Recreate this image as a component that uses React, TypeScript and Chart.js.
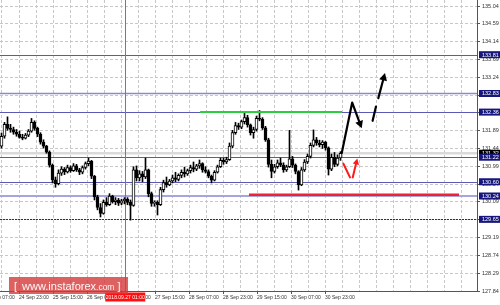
import React, { useEffect, useRef } from 'react';
import { Chart, registerables } from 'chart.js';
Chart.register(...registerables);

// ---- data (candle index on x, price on y) ----
const OPEN = [
  131.50,131.75,132.05,131.95,131.92,131.85,131.80,131.72,131.70,131.78,
  131.88,132.10,131.95,131.80,131.60,131.50,131.35,131.02,130.65,130.55,
  130.82,130.92,130.85,130.96,130.88,131.00,130.90,130.84,130.96,131.06,
  131.12,130.74,130.22,129.95,129.80,130.08,130.02,130.24,130.10,130.14,
  130.06,130.12,130.16,130.08,130.00,130.90,130.70,130.80,130.72,130.90,
  130.30,130.05,130.08,130.02,130.40,130.58,130.52,130.62,130.70,130.66,
  130.76,130.84,130.80,130.88,130.96,130.92,131.00,131.06,130.90,130.86,
  130.74,130.64,130.84,130.98,131.14,131.10,131.16,131.50,131.84,132.02,
  131.98,132.12,132.22,132.04,131.84,131.92,132.20,132.18,131.96,131.66,
  131.04,130.86,130.98,131.08,131.02,130.90,130.98,131.18,131.02,130.86,
  130.52,130.90,131.10,131.24,131.52,131.66,131.58,131.54,131.60,131.46,
  130.92,131.22,131.04,131.20,
];
const HIGH = [
  131.83,132.10,132.24,132.05,131.98,131.92,131.88,131.80,131.82,131.92,
  132.20,132.14,131.98,131.84,131.66,131.52,131.38,131.05,130.72,130.90,
  130.98,130.96,131.02,131.00,131.06,131.04,130.94,131.00,131.10,131.20,
  131.14,130.76,130.26,130.05,130.14,130.20,130.30,130.26,130.20,130.18,
  130.16,130.20,130.20,130.14,130.98,131.00,130.88,130.86,131.20,130.92,
  130.34,130.12,130.12,130.46,130.64,130.72,130.66,130.77,130.84,130.80,
  130.90,130.97,130.92,131.02,131.10,131.04,131.15,131.08,130.98,130.90,
  130.77,130.88,131.02,131.20,131.20,131.22,131.58,131.90,132.10,132.08,
  132.16,132.38,132.28,132.06,131.98,132.26,132.40,132.22,132.00,131.70,
  131.15,131.04,131.15,131.20,131.08,131.02,131.90,131.24,131.05,130.88,
  130.96,131.16,131.30,131.58,131.91,131.72,131.65,131.64,131.62,131.48,
  131.30,131.34,131.28,131.36,
];
const LOW = [
  131.45,131.70,131.90,131.85,131.80,131.75,131.70,131.66,131.68,131.74,
  131.85,131.90,131.74,131.55,131.45,131.32,130.97,130.57,130.46,130.52,
  130.76,130.78,130.82,130.84,130.86,130.86,130.78,130.80,130.92,131.00,
  130.68,130.14,129.89,129.71,129.78,129.98,130.00,130.06,130.02,130.00,
  130.02,130.04,130.02,129.63,129.98,130.62,130.62,130.60,130.68,130.22,
  129.98,129.98,129.76,130.00,130.34,130.46,130.50,130.57,130.60,130.62,
  130.70,130.72,130.76,130.82,130.85,130.88,130.94,130.84,130.82,130.70,
  130.57,130.62,130.82,130.96,131.04,131.06,131.14,131.46,131.80,131.92,
  131.94,132.06,131.98,131.78,131.70,131.88,132.14,131.92,131.62,130.97,
  130.70,130.82,130.94,130.98,130.84,130.86,130.96,130.96,130.80,130.39,
  130.50,130.86,131.06,131.20,131.48,131.52,131.48,131.44,131.40,130.77,
  130.88,130.98,131.00,131.14,
];
const CLOSE = [
  131.75,132.05,131.95,131.92,131.85,131.80,131.72,131.70,131.78,131.88,
  132.10,131.95,131.80,131.60,131.50,131.35,131.02,130.65,130.55,130.82,
  130.92,130.85,130.96,130.88,131.00,130.90,130.84,130.96,131.06,131.12,
  130.74,130.22,129.95,129.80,130.08,130.02,130.24,130.10,130.14,130.06,
  130.12,130.16,130.08,130.00,130.90,130.70,130.80,130.72,130.90,130.30,
  130.05,130.08,130.02,130.40,130.58,130.52,130.62,130.70,130.66,130.76,
  130.84,130.80,130.88,130.96,130.92,131.00,131.06,130.90,130.86,130.74,
  130.64,130.84,130.98,131.14,131.10,131.16,131.50,131.84,132.02,131.98,
  132.12,132.22,132.04,131.84,131.92,132.20,132.18,131.96,131.66,131.04,
  130.86,130.98,131.08,131.02,130.90,130.98,131.18,131.02,130.86,130.52,
  130.90,131.10,131.24,131.52,131.66,131.58,131.54,131.60,131.46,130.92,
  131.22,131.04,131.20,131.32,
];

const X_TICK_LABELS = [
  '24 Sep 07:00', '24 Sep 23:00', '25 Sep 15:00', '26 Sep 07:00', '26 Sep 23:00',
  '27 Sep 15:00', '28 Sep 07:00', '28 Sep 23:00', '29 Sep 15:00', '30 Sep 07:00', '30 Sep 23:00',
];
const Y_TICKS = [
  127.84, 128.29, 128.74, 129.19, 129.64, 130.09, 130.54, 130.99, 131.44,
  131.89, 132.34, 132.79, 133.24, 133.69, 134.14, 134.59, 135.04,
];
const LEVELS = [133.81, 132.83, 132.36, 131.22, 130.60, 130.24, 129.65];
const BID = 131.32;
const CURSOR_X = 41.25;
const CURSOR_LABEL = '2018.09.27 01:00';
const GREEN_SEG = { from: 66.2, to: 113.5, price: 132.36 };
const RED_SEG = { from: 82.5, to: 152.5, price: 130.27 };
const BLACK_PATH = [[113.4, 131.32], [116.9, 132.60], [120.07, 131.95]];
const BLACK_DASH = [[123.7, 132.14], [124.83, 132.50]];
const BLACK_UP = [[125.6, 132.71], [127.83, 133.35]];
const RED_DOWN = [[113.93, 131.06], [116.17, 130.71]];
const RED_UP = [[117.07, 130.71], [118.6, 131.19]];

// ---- axis layout ----
const X_MIN = -0.5;
const X_MAX = 158.5;
const Y_MIN = 127.84;
const Y_MAX = 135.192;
const GRID_STEP = 17 / 3;
const GRID0 = 2 / 3 - 0.5;
const X_TICK_VALUES: number[] = [];
const X_TICK_TEXT: string[] = [];
for (let k = -1; k <= 27; k++) {
  X_TICK_VALUES.push(GRID0 + k * GRID_STEP);
  const li = (k + 1) / 2;
  X_TICK_TEXT.push(k % 2 !== 0 && li < X_TICK_LABELS.length ? X_TICK_LABELS[li] : '');
}

const LEVEL_STYLE = [
  { color: '#5a5ab4', width: 1, dash: [] as number[] },
  { color: '#8a8ad0', width: 1.5, dash: [] as number[] },
  { color: '#5a5ab4', width: 1, dash: [] as number[] },
  { color: '#5a5ab4', width: 1, dash: [] as number[] },
  { color: '#5a5ab4', width: 1, dash: [] as number[] },
  { color: '#a6a6dc', width: 2, dash: [] as number[] },
  { color: '#2a2a86', width: 1, dash: [2, 1] },
];
const FONT = 'Liberation Sans';

function head(ctx: CanvasRenderingContext2D, x1: number, y1: number, x2: number, y2: number, len: number, hw: number) {
  const a = Math.atan2(y2 - y1, x2 - x1);
  const bx = x2 - len * Math.cos(a);
  const by = y2 - len * Math.sin(a);
  ctx.beginPath();
  ctx.moveTo(x2, y2);
  ctx.lineTo(bx + hw * Math.sin(a), by - hw * Math.cos(a));
  ctx.lineTo(bx - hw * Math.sin(a), by + hw * Math.cos(a));
  ctx.closePath();
  ctx.fill();
}

const overlay = {
  id: 'overlay',
  beforeDatasetsDraw(chart: any) {
    const { ctx, chartArea: a, scales } = chart;
    const xs = scales.x, ys = scales.y;
    ctx.save();
    ctx.strokeStyle = '#dadada';
    ctx.lineWidth = 2.5;
    const y = ys.getPixelForValue(BID);
    ctx.beginPath(); ctx.moveTo(a.left, y); ctx.lineTo(a.right, y); ctx.stroke();
    LEVELS.forEach((v, i) => {
      const st = LEVEL_STYLE[i];
      const py = st.width === 1 ? Math.round(ys.getPixelForValue(v)) + 0.5 : ys.getPixelForValue(v);
      ctx.strokeStyle = st.color;
      ctx.lineWidth = st.width;
      ctx.setLineDash(st.dash);
      ctx.beginPath(); ctx.moveTo(a.left, py); ctx.lineTo(a.right, py); ctx.stroke();
    });
    ctx.setLineDash([]);
    const cx = Math.round(xs.getPixelForValue(CURSOR_X)) + 0.5;
    ctx.strokeStyle = '#e05050';
    ctx.lineWidth = 1;
    ctx.beginPath(); ctx.moveTo(cx, a.top); ctx.lineTo(cx, a.bottom); ctx.stroke();
    ctx.restore();
  },
  afterDatasetsDraw(chart: any) {
    const { ctx, scales } = chart;
    const xs = scales.x, ys = scales.y;
    const P = (p: number[]) => [xs.getPixelForValue(p[0]), ys.getPixelForValue(p[1])];
    ctx.save();
    ctx.lineWidth = 2;
    ctx.strokeStyle = '#2ecc40';
    let y = ys.getPixelForValue(GREEN_SEG.price);
    ctx.beginPath(); ctx.moveTo(xs.getPixelForValue(GREEN_SEG.from), y); ctx.lineTo(xs.getPixelForValue(GREEN_SEG.to), y); ctx.stroke();
    ctx.lineWidth = 2.5;
    ctx.strokeStyle = '#ee2233';
    y = ys.getPixelForValue(RED_SEG.price);
    ctx.beginPath(); ctx.moveTo(xs.getPixelForValue(RED_SEG.from), y); ctx.lineTo(xs.getPixelForValue(RED_SEG.to), y); ctx.stroke();

    ctx.lineCap = 'round';
    ctx.lineJoin = 'round';
    ctx.strokeStyle = '#000';
    ctx.fillStyle = '#000';
    ctx.lineWidth = 2.2;
    const bp = BLACK_PATH.map(P);
    ctx.beginPath();
    ctx.moveTo(bp[0][0], bp[0][1]);
    ctx.lineTo(bp[1][0], bp[1][1]);
    {
      const [x1, y1] = bp[1], [x2, y2] = bp[2];
      const a = Math.atan2(y2 - y1, x2 - x1);
      ctx.lineTo(x2 - 5 * Math.cos(a), y2 - 5 * Math.sin(a));
    }
    ctx.stroke();
    head(ctx, bp[1][0], bp[1][1], bp[2][0], bp[2][1], 7.5, 4);
    const bd = BLACK_DASH.map(P);
    ctx.beginPath(); ctx.moveTo(bd[0][0], bd[0][1]); ctx.lineTo(bd[1][0], bd[1][1]); ctx.stroke();
    const bu = BLACK_UP.map(P);
    {
      const a = Math.atan2(bu[1][1] - bu[0][1], bu[1][0] - bu[0][0]);
      ctx.beginPath(); ctx.moveTo(bu[0][0], bu[0][1]);
      ctx.lineTo(bu[1][0] - 5 * Math.cos(a), bu[1][1] - 5 * Math.sin(a)); ctx.stroke();
    }
    head(ctx, bu[0][0], bu[0][1], bu[1][0], bu[1][1], 7.5, 4);
    ctx.strokeStyle = '#ff1a1a';
    ctx.fillStyle = '#ff1a1a';
    ctx.lineWidth = 2;
    const rd = RED_DOWN.map(P);
    ctx.beginPath(); ctx.moveTo(rd[0][0], rd[0][1]); ctx.lineTo(rd[1][0], rd[1][1]); ctx.stroke();
    const ru = RED_UP.map(P);
    {
      const a = Math.atan2(ru[1][1] - ru[0][1], ru[1][0] - ru[0][0]);
      ctx.beginPath(); ctx.moveTo(ru[0][0], ru[0][1]);
      ctx.lineTo(ru[1][0] - 4 * Math.cos(a), ru[1][1] - 4 * Math.sin(a)); ctx.stroke();
    }
    head(ctx, ru[0][0], ru[0][1], ru[1][0], ru[1][1], 6, 3.2);
    ctx.restore();
  },
  afterDraw(chart: any) {
    const { ctx, chartArea: a, scales } = chart;
    const xs = scales.x, ys = scales.y;
    ctx.save();
    ctx.font = `5.5px "${FONT}"`;
    ctx.textBaseline = 'middle';
    ctx.textAlign = 'left';
    const box = (v: number, bg: string) => {
      const py = ys.getPixelForValue(v);
      ctx.fillStyle = bg;
      ctx.fillRect(a.right + 2, py - 3.5, 500 - a.right - 2, 7);
      ctx.fillStyle = '#fff';
      ctx.fillText(v.toFixed(2), a.right + 5, py + 0.3);
    };
    box(BID, '#000');
    LEVELS.forEach((v) => box(v, '#16167c'));
    const cx = xs.getPixelForValue(CURSOR_X);
    ctx.fillStyle = '#ff1010';
    ctx.fillRect(cx - 20, a.bottom + 1.5, 40, 9);
    ctx.fillStyle = '#fff';
    ctx.font = `5px "${FONT}"`;
    ctx.textAlign = 'center';
    ctx.fillText(CURSOR_LABEL, cx, a.bottom + 6.2);
    // watermark
    ctx.fillStyle = 'rgba(214,58,58,0.8)';
    ctx.fillRect(9, 277, 119, 17);
    ctx.fillStyle = 'rgba(255,255,255,0.95)';
    ctx.textAlign = 'left';
    ctx.textBaseline = 'alphabetic';
    let x = 14;
    ctx.font = `11px "${FONT}"`;
    ctx.fillText('[', x, 290); x += ctx.measureText('[').width + 5;
    ctx.fillText('www.instaforex', x, 290); x += ctx.measureText('www.instaforex').width;
    ctx.font = `8.5px "${FONT}"`;
    ctx.fillText('.com', x, 290); x += ctx.measureText('.com').width + 3;
    ctx.font = `11px "${FONT}"`;
    ctx.fillText(']', x, 290);
    ctx.restore();
  },
};

export default function App() {
  const ref = useRef<HTMLCanvasElement>(null);
  useEffect(() => {
    const canvas = ref.current!;
    const chart = new Chart(canvas, {
      type: 'bar',
      data: {
        datasets: [
          {
            label: 'body',
            data: CLOSE.map((c, i) => ({ x: i, y: [OPEN[i], c] })) as any,
            backgroundColor: CLOSE.map((c, i) => (c >= OPEN[i] ? '#ffffff' : '#000000')),
            borderColor: '#000',
            borderWidth: 1,
            borderSkipped: false,
            barThickness: 3,
            grouped: false,
            order: 1,
          } as any,
          {
            label: 'wick',
            data: CLOSE.map((c, i) => ({ x: i, y: [LOW[i], HIGH[i]] })) as any,
            backgroundColor: '#000',
            borderWidth: 0,
            barThickness: 1,
            grouped: false,
            order: 2,
          } as any,
        ],
      },
      options: {
        responsive: false,
        devicePixelRatio: 1,
        animation: false,
        events: [],
        layout: { padding: 0 },
        plugins: { legend: { display: false }, tooltip: { enabled: false } },
        scales: {
          x: {
            type: 'linear',
            min: X_MIN,
            max: X_MAX,
            offset: false,
            grid: {
              offset: false,
              color: '#c8c8c8',
              lineWidth: 1,
              tickLength: 3,
              tickColor: (c: any) => (X_TICK_TEXT[c.index] ? '#555' : 'rgba(0,0,0,0)'),
            },
            border: { display: true, color: '#555', width: 1, dash: [3, 2] },
            ticks: {
              autoSkip: false,
              maxRotation: 0,
              minRotation: 0,
              align: 'start',
              padding: 1,
              color: '#333',
              font: { family: FONT, size: 5 },
              callback: (_v: any, i: number) => X_TICK_TEXT[i],
            },
            afterBuildTicks: (s: any) => {
              s.ticks = X_TICK_VALUES.map((v) => ({ value: v }));
            },
            afterFit: (s: any) => {
              s.height = 14;
              s.paddingLeft = 0;
              s.paddingRight = 0;
            },
          } as any,
          y: {
            type: 'linear',
            position: 'right',
            min: Y_MIN,
            max: Y_MAX,
            grid: { color: '#c8c8c8', lineWidth: 1, tickLength: 3, tickColor: '#555' },
            border: { display: true, color: '#555', width: 1, dash: [3, 2] },
            ticks: {
              padding: 2,
              color: '#333',
              font: { family: FONT, size: 5.5 },
              callback: (v: any) => Number(v).toFixed(2),
            },
            afterBuildTicks: (s: any) => {
              s.ticks = Y_TICKS.map((v) => ({ value: v }));
            },
            afterFit: (s: any) => {
              s.width = 23;
              s.paddingTop = 0;
              s.paddingBottom = 0;
            },
          } as any,
        },
      },
      plugins: [overlay],
    });
    return () => chart.destroy();
  }, []);
  return (
    <div style={{ position: 'fixed', left: 0, top: 0, width: 500, height: 305, background: '#fff' }}>
      <canvas ref={ref} width={500} height={305} style={{ display: 'block', width: 500, height: 305 }} />
    </div>
  );
}
